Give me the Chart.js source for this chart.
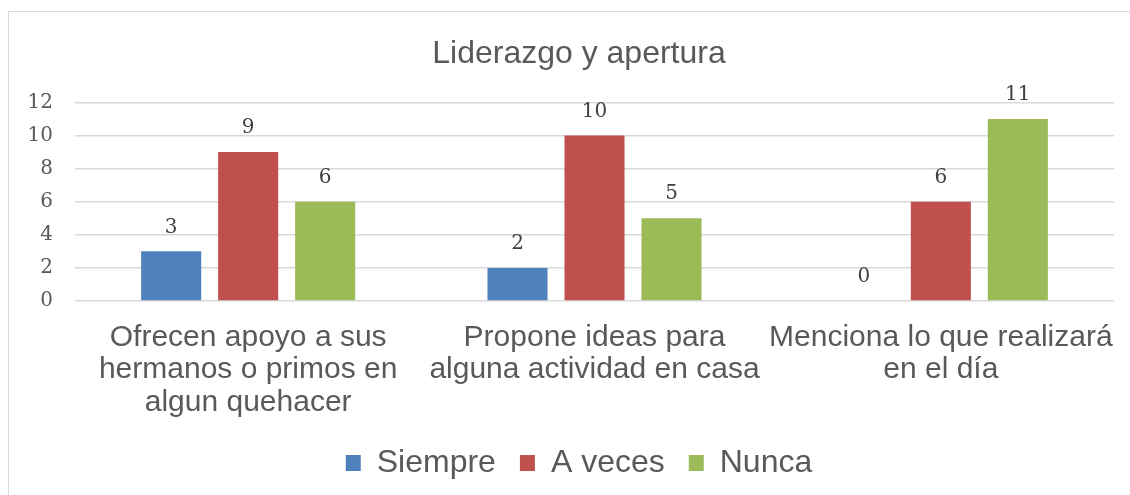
<!DOCTYPE html>
<html><head><meta charset="utf-8">
<script src="https://cdn.jsdelivr.net/npm/chart.js@4"></script>
<style>
html,body{margin:0;padding:0;background:#fff;}
#frame{position:absolute;left:8px;top:11px;width:1130px;height:490px;border:1px solid #d9d9d9;box-sizing:border-box;}
#wrap{position:absolute;left:0;top:0;width:1130px;height:495px;}
</style></head>
<body>
<div id="frame"></div>
<div id="wrap"><canvas id="c" width="1130" height="495"></canvas></div>
<script>
const categories = [
  ["Ofrecen apoyo a sus", "hermanos o primos en", "algun quehacer"],
  ["Propone ideas para", "alguna actividad en casa"],
  ["Menciona lo que realizará", "en el día"]
];
const seriesNames = ["Siempre", "A veces", "Nunca"];
const siempre = [3, 2, 0];
const aVeces = [9, 10, 6];
const nunca = [6, 5, 11];
const seriesColors = ["#4F81BD", "#C0504D", "#9BBB59"];
const yTicks = [0, 2, 4, 6, 8, 10, 12];

const valueLabels = {
  id: 'valueLabels',
  afterLayout(chart) {
    // let the y tick labels extend into the left padding without being clipped
    chart.scales.y.left = 0;
  },
  afterDatasetsDraw(chart) {
    const ctx = chart.ctx;
    ctx.save();
    ctx.font = '20px "DejaVu Serif", "Liberation Serif", serif';
    ctx.fillStyle = '#404040';
    ctx.textAlign = 'center';
    ctx.textBaseline = 'middle';
    chart.data.datasets.forEach((ds, i) => {
      const meta = chart.getDatasetMeta(i);
      meta.data.forEach((el, j) => {
        ctx.fillText(String(ds.data[j]), el.x, el.y - 24);
      });
    });
    ctx.restore();
  }
};

new Chart(document.getElementById('c'), {
  type: 'bar',
  data: {
    labels: categories,
    datasets: [
      {label: seriesNames[0], data: siempre, backgroundColor: seriesColors[0]},
      {label: seriesNames[1], data: aVeces, backgroundColor: seriesColors[1]},
      {label: seriesNames[2], data: nunca, backgroundColor: seriesColors[2]}
    ]
  },
  options: {
    responsive: false,
    animation: false,
    devicePixelRatio: 1,
    layout: {padding: {top: 18, right: 16, left: 44, bottom: 6}},
    datasets: {bar: {categoryPercentage: 0.667, barPercentage: 0.78}},
    plugins: {
      title: {display: true, text: 'Liderazgo y apertura', color: '#595959',
        font: {family: 'Arial, "Liberation Sans", sans-serif', size: 32, weight: 'normal'},
        padding: {top: 17, bottom: 29}},
      legend: {position: 'bottom',
        labels: {color: '#595959', boxWidth: 15, boxHeight: 16, padding: 24,
          font: {family: 'Arial, "Liberation Sans", sans-serif', size: 32}}},
      tooltip: {enabled: false}
    },
    scales: {
      x: {
        afterFit(s) { s.height = 122; },
        grid: {display: false},
        border: {display: false},
        ticks: {color: '#595959', padding: 13, maxRotation: 0, autoSkip: false,
          font: {family: 'Arial, "Liberation Sans", sans-serif', size: 30, lineHeight: 1.07}}
      },
      y: {
        min: 0, max: 12,
        afterFit(s) { s.width = 31; },
        afterBuildTicks(s) { s.ticks = yTicks.map(v => ({value: v})); },
        grid: {color: '#d9d9d9', lineWidth: 1.5, drawTicks: false},
        border: {display: false},
        ticks: {color: '#595959', padding: 22, stepSize: 2,
          font: {family: '"DejaVu Serif", "Liberation Serif", serif', size: 20}}
      }
    }
  },
  plugins: [valueLabels]
});
</script>
</body></html>
